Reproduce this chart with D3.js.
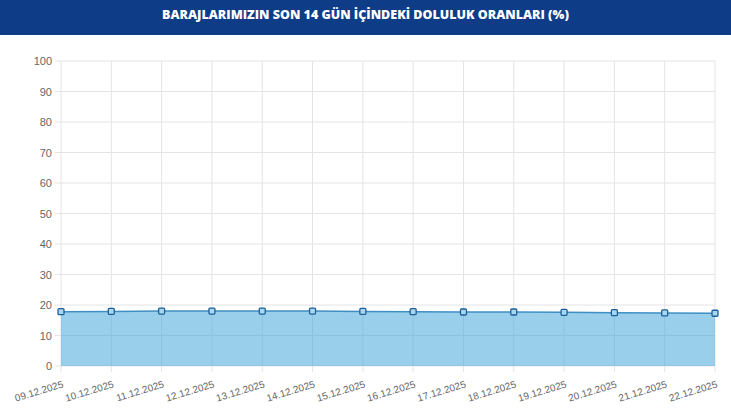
<!DOCTYPE html>
<html>
<head>
<meta charset="utf-8">
<script src="https://cdn.jsdelivr.net/npm/d3@7"></script>
<style>
    body { margin: 0; background: #ffffff; }
    svg { display: block; }
</style>
</head>
<body>
<div id="chart"></div>
<script>
// baraj doluluk oranlari, son 14 gun
var dates = ["09.12.2025", "10.12.2025", "11.12.2025", "12.12.2025", "13.12.2025", "14.12.2025", "15.12.2025",
    "16.12.2025", "17.12.2025", "18.12.2025", "19.12.2025", "20.12.2025", "21.12.2025", "22.12.2025"];
var rates = [17.8, 17.9, 18.0, 18.0, 18.0, 18.0, 17.9, 17.8, 17.7, 17.7, 17.6, 17.5, 17.4, 17.3];
var yTicks = [0, 10, 20, 30, 40, 50, 60, 70, 80, 90, 100];
var title = "BARAJLARIMIZIN SON 14 GÜN İÇİNDEKİ DOLULUK ORANLARI (%)";

var width = 731, height = 410;
var plotLeft = 61, plotRight = 715, plotTop = 61, plotBottom = 366;
var headerColor = "#0f3c87", gridColor = "#e4e4e4", tickColor = "#666666";
var fillColor = "#3ea4d7", lineColor = "#3f8fc4", pointStroke = "#1d5f99", pointFill = "#a9d6ef";

var svg = d3.select("#chart")
    .append("svg")
    .attr("width", width)
    .attr("height", height);

svg.append("rect")
    .attr("x", 0)
    .attr("y", 0)
    .attr("width", width)
    .attr("height", 35)
    .attr("fill", headerColor);

svg.append("text")
    .attr("x", width / 2)
    .attr("y", 19)
    .attr("text-anchor", "middle")
    .attr("font-family", "'Open Sans', sans-serif")
    .attr("font-weight", "800")
    .attr("font-size", "12.5px")
    .attr("fill", "#ffffff")
    .text(title);

var x = d3.scalePoint().domain(dates).range([plotLeft, plotRight]);
var y = d3.scaleLinear().domain([0, 100]).range([plotBottom, plotTop]);

// grid
svg.append("g").selectAll("line")
    .data(yTicks)
    .enter().append("line")
    .attr("x1", plotLeft - 6)
    .attr("x2", plotRight)
    .attr("y1", d => y(d))
    .attr("y2", d => y(d))
    .attr("stroke", gridColor)
    .attr("stroke-width", 1);

svg.append("g").selectAll("line")
    .data(dates)
    .enter().append("line")
    .attr("x1", d => x(d))
    .attr("x2", d => x(d))
    .attr("y1", plotTop)
    .attr("y2", plotBottom + 6)
    .attr("stroke", gridColor)
    .attr("stroke-width", 1);

// y axis labels
svg.append("g").selectAll("text")
    .data(yTicks)
    .enter().append("text")
    .attr("x", plotLeft - 9)
    .attr("y", d => y(d) + 4)
    .attr("text-anchor", "end")
    .attr("font-family", "Arial, 'Liberation Sans', sans-serif")
    .attr("font-size", "11px")
    .attr("fill", tickColor)
    .text(d => d);

// x axis labels, rotated
svg.append("g").selectAll("text")
    .data(dates)
    .enter().append("text")
    .attr("transform", d => "translate(" + (x(d) + 3) + "," + (plotBottom + 21) + ") rotate(-17)")
    .attr("text-anchor", "end")
    .attr("font-family", "Arial, 'Liberation Sans', sans-serif")
    .attr("font-size", "10px")
    .attr("fill", tickColor)
    .text(d => d);

var area = d3.area()
    .x((d, i) => x(dates[i]))
    .y0(y(0))
    .y1(d => y(d));

var line = d3.line()
    .x((d, i) => x(dates[i]))
    .y(d => y(d));

svg.append("path")
    .datum(rates)
    .attr("d", area)
    .attr("fill", fillColor)
    .attr("fill-opacity", 0.53);

svg.append("path")
    .datum(rates)
    .attr("d", line)
    .attr("fill", "none")
    .attr("stroke", lineColor)
    .attr("stroke-width", 1.5);

svg.append("g").selectAll("rect")
    .data(rates)
    .enter().append("rect")
    .attr("x", (d, i) => x(dates[i]) - 3)
    .attr("y", d => y(d) - 3)
    .attr("width", 6)
    .attr("height", 6)
    .attr("rx", 1)
    .attr("fill", pointFill)
    .attr("stroke", pointStroke)
    .attr("stroke-width", 1.3);
</script>
</body>
</html>
